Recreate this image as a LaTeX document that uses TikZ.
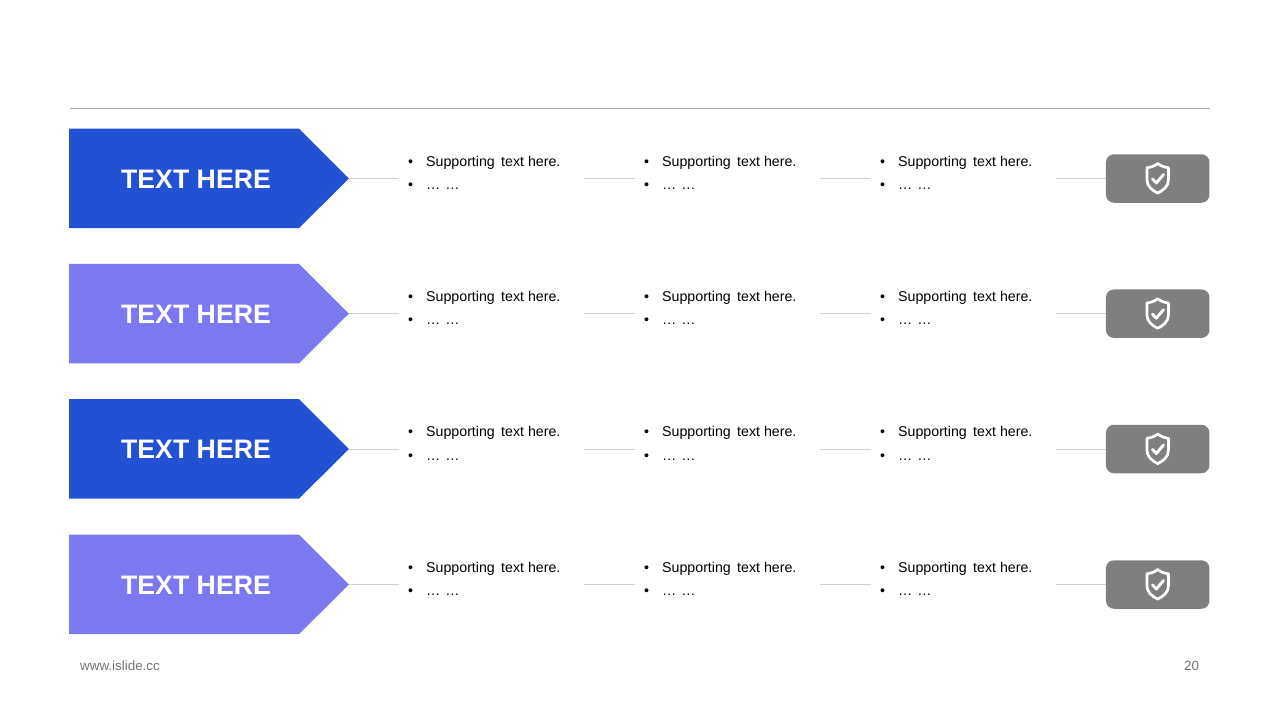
\documentclass[tikz,border=0pt]{standalone}
\usepackage{fontspec}
\setmainfont{Liberation Sans}
\definecolor{bluea}{HTML}{2251D4}
\definecolor{blueb}{HTML}{7C78F0}
\definecolor{boxgray}{HTML}{7F7F7F}
\definecolor{linegray}{HTML}{D0D0D0}
\tikzset{
  headtext/.style={text=white,font=\fontsize{26.7}{30}\selectfont\bfseries,anchor=center,inner sep=0},
  bodytext/.style={text=black,font=\fontsize{14.2}{17}\selectfont,anchor=base west,inner sep=0},
  linkline/.style={draw=linegray,line width=0.9pt},
  footertext/.style={text=black!55,font=\fontsize{13.4}{16}\selectfont,inner sep=0,anchor=base west},
  badge/.style={fill=boxgray,draw=none,rounded corners=8pt,minimum width=103.5pt,minimum height=48.5pt,inner sep=0,anchor=center}
}
\newcommand{\bulletcol}[3]{% x, baseline-y, id
  \node[bodytext] (b#3a) at (#1,#2) {•};
  \node[bodytext] (t#3a) at (#1+18,#2) {Supporting\hspace{2.4pt} text here.};
  \node[bodytext] (b#3b) at (#1,#2+23.3) {•};
  \node[bodytext] (t#3b) at (#1+18,#2+23.3) {…\hspace{1pt} …};
}
\begin{document}
\begin{tikzpicture}[x=1pt,y=-1pt]
\useasboundingbox (0,0) rectangle (1280,720);
\coordinate (ruleL) at (70,108.5);
\coordinate (ruleR) at (1209.5,108.5);
\draw[draw=black!35,line width=0.9pt] (ruleL) -- (ruleR);
\foreach \i/\y/\col in {1/178.5/bluea,2/313.7/blueb,3/449/bluea,4/584.5/blueb}{
  \fill[\col] (69,\y-49.9) -- (299,\y-49.9) -- (348.8,\y) -- (299,\y+49.7) -- (69,\y+49.7) -- cycle;
  \coordinate (tip\i) at (348.8,\y);
  \node[headtext] (head\i) at (196,\y+0.8) {TEXT HERE};
  \bulletcol{408}{\y-12.2}{\i x}
  \bulletcol{644}{\y-12.2}{\i y}
  \bulletcol{880}{\y-12.2}{\i z}
  \coordinate (s\i a) at (399,\y);
  \coordinate (s\i b) at (584,\y);
  \coordinate (s\i c) at (635,\y);
  \coordinate (s\i d) at (820,\y);
  \coordinate (s\i e) at (871,\y);
  \coordinate (s\i f) at (1056,\y);
  \node[badge] (badge\i) at (1157.7,\y) {};
  \draw[linkline] (tip\i) -- (s\i a);
  \draw[linkline] (s\i b) -- (s\i c);
  \draw[linkline] (s\i d) -- (s\i e);
  \draw[linkline] (s\i f) -- (badge\i.west);
  \draw[white,line width=2.7pt,line join=round]
    (1157.7,\y-15) .. controls (1161,\y-12.2) and (1165,\y-11.2) .. (1168.5,\y-10.7)
    -- (1168.5,\y+1) .. controls (1168.5,\y+8) and (1163,\y+12) .. (1157.7,\y+14.6)
    .. controls (1152.4,\y+12) and (1146.9,\y+8) .. (1146.9,\y+1)
    -- (1146.9,\y-10.7) .. controls (1150.4,\y-11.2) and (1154.4,\y-12.2) .. (1157.7,\y-15) -- cycle;
  \draw[white,line width=2.9pt,line cap=round,line join=round]
    (1152.5,\y+0.5) -- (1156.3,\y+4.5) -- (1163.5,\y-4);
}
\node[footertext] (site) at (80,670.5) {www.islide.cc};
\node[footertext] (page) at (1184,670.5) {20};
\end{tikzpicture}
\end{document}
